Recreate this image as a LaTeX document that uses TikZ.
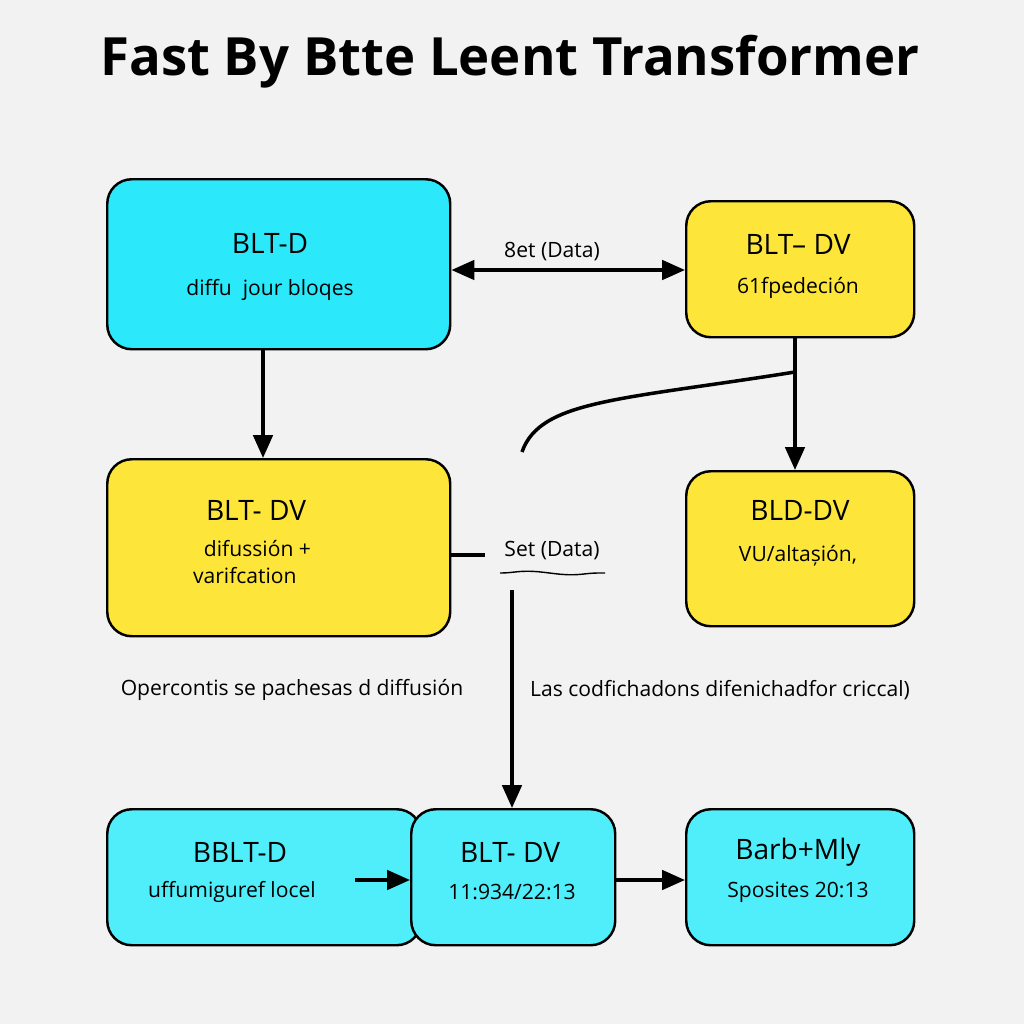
\documentclass[tikz,border=0pt]{standalone}
\usepackage{fontspec}
\setmainfont{Open Sans}
\usetikzlibrary{arrows.meta,decorations.pathmorphing}
\definecolor{cy}{HTML}{2BE8FA}
\definecolor{cyl}{HTML}{50EEFA}
\definecolor{yl}{HTML}{FDE53A}
\definecolor{bg}{HTML}{F2F2F2}
\begin{document}
\begin{tikzpicture}[x=0.02cm,y=-0.02cm,
 box/.style={draw=black,line width=1.4pt,rounded corners=14pt,anchor=north west,inner sep=0pt},
 tt/.style={font=\fontsize{16}{18}\selectfont},
 st/.style={font=\fontsize{12}{15}\selectfont,align=center},
 ar/.style={line width=2pt,-{Triangle[length=13pt,width=11pt]}},
 ln/.style={line width=2pt}]
\fill[bg] (0,0) rectangle (1024,1024);
\useasboundingbox (0,0) rectangle (1024,1024);
\node[font=\bfseries\fontsize{30}{36}\selectfont] (title) at (510,62) {Fast By Btte Leent Transformer};
\node[box,fill=cy,minimum width=343*0.02cm,minimum height=170*0.02cm] (A) at (106,178) {};
\node[tt] (At) at (270,243) {BLT-D};
\node[st] (As) at (270,290) {diffu\ \ jour bloqes};
\node[box,fill=yl,minimum width=228*0.02cm,minimum height=136*0.02cm] (B) at (685,200) {};
\node[tt] (Bt) at (798,244) {BLT-- DV};
\node[st] (Bs) at (798,288) {61fpedeción};
\node[box,fill=yl,minimum width=343*0.02cm,minimum height=177*0.02cm] (C) at (106,458) {};
\node[tt] (Ct) at (256,510) {BLT- DV};
\node[st,align=left] (Cs) at (252,562) {\ \ difussión +\\varifcation};
\node[box,fill=yl,minimum width=228*0.02cm,minimum height=155*0.02cm] (D) at (685,470) {};
\node[tt] (Dt) at (800,510) {BLD-DV};
\node[st] (Ds) at (798,556) {VU/altașión,};
\node[box,fill=cyl,minimum width=314*0.02cm,minimum height=136*0.02cm] (E) at (106,808) {};
\node[box,fill=cyl,minimum width=204*0.02cm,minimum height=136*0.02cm] (F) at (410,808) {};
\node[box,fill=cyl,minimum width=228*0.02cm,minimum height=136*0.02cm] (G) at (685,808) {};
\node[tt] (Et) at (240,852) {BBLT-D};
\node[st] (Es) at (232,892) {uffumiguref locel};
\node[tt] (Ft) at (510,852) {BLT- DV};
\node[st] (Fs) at (512,892) {11:934/22:13};
\node[tt] (Gt) at (798,852) {Barb+Mly};
\node[st] (Gs) at (798,892) {Sposites 20:13};
\node[st] (L1) at (292,690) {Opercontis se pachesas d diffusión};
\node[st] (L2) at (720,690) {Las codfichadons difenichadfor criccal)};
\node[st] (lab1) at (552,252) {8et (Data)};
\node[st] (lab2) at (552,551) {Set (Data)};
\draw[decorate,decoration={snake,amplitude=1pt,segment length=50pt},line width=0.8pt] (500,573) -- (605,573);
\draw[line width=2pt,{Triangle[length=13pt,width=11pt]}-{Triangle[length=13pt,width=11pt]}] (A.east|-0,270) -- (B.west|-0,270);
\draw[ar] (263,348) -- (C.north-|263,0);
\draw[ar] (795,336) -- (D.north-|795,0);
\coordinate (c1) at (795,372);
\coordinate (c2) at (522,452);
\draw[ln] (c1) .. controls (620,400) and (540,400) .. (c2);
\coordinate (c3) at (485,555);
\draw[ln] (C.east|-0,555) -- (c3);
\coordinate (c4) at (512,590);
\draw[ar] (c4) -- (F.north-|512,0);
\coordinate (c5) at (355,880);
\draw[ar] (c5) -- (F.west|-0,880);
\draw[ar] (F.east|-0,880) -- (G.west|-0,880);
\end{tikzpicture}
\end{document}
